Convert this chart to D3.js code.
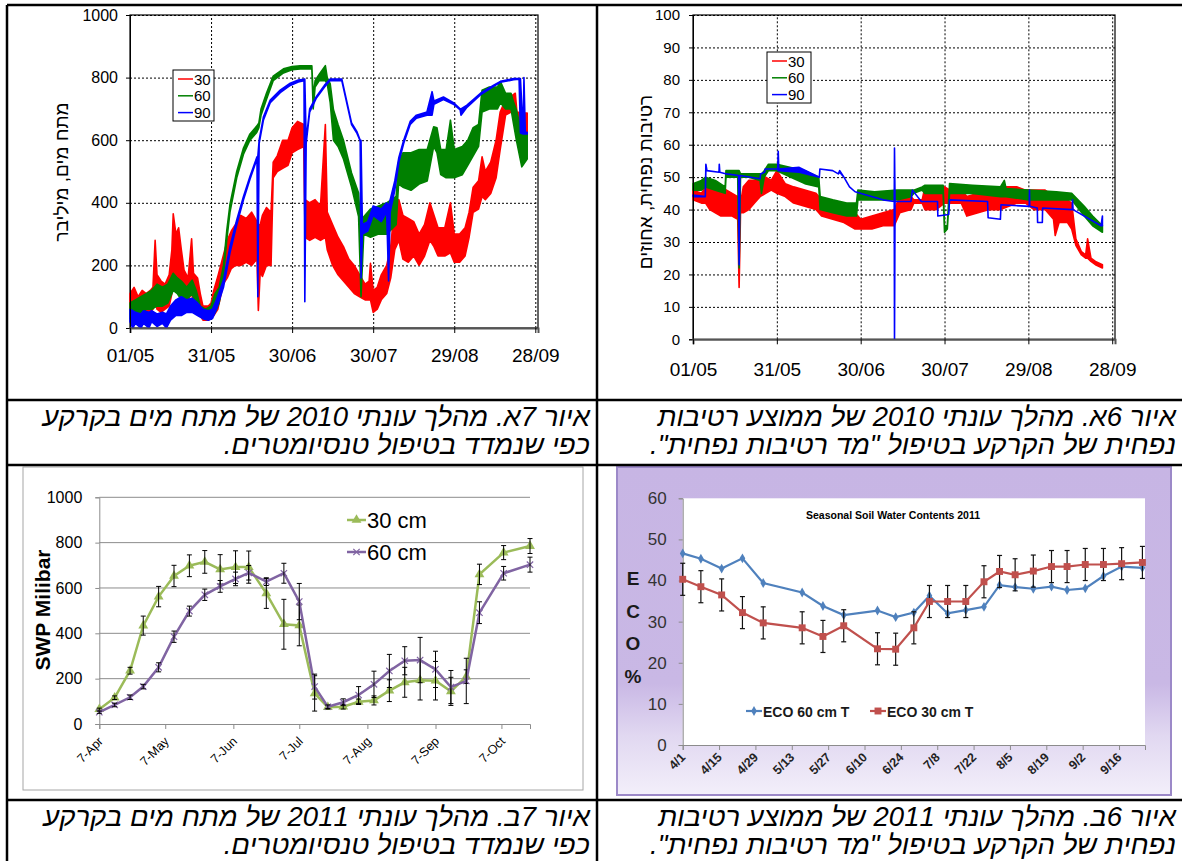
<!DOCTYPE html>
<html>
<head>
<meta charset="utf-8">
<script src="https://cdn.jsdelivr.net/npm/d3@7"></script>
<style>
  body { margin: 0; background: #fff; }
  svg { display: block; }
  .dotgrid line { stroke: #000; stroke-width: 1px; stroke-dasharray: 2 2; }
</style>
</head>
<body>
<svg id="fig" width="1182" height="861"></svg>
<script>
// ---------- data ----------
// 2010 sensor logs, days counted from 01/05/2010. each row: [day, low, high] of the daily swing
const start2010 = new Date(2010, 4, 1);
const tickDays2010 = [0, 30, 60, 90, 120, 150];
const depthNames = ["30", "60", "90"];
const depthColors = ["#ff0000", "#008000", "#0000ff"];

// water tension (millibar), tensiometer plot
const tension30 = [[0,40,110],[1.5,60,130],[3,50,100],[4.5,30,120],[6,40,110],[7.5,50,120],[8.5,60,130],[9.3,90,280],[10,60,170],[11.5,50,150],[13,60,140],[14.5,70,170],[15.5,110,250],[16,150,365],[17,150,300],[18,170,320],[19,100,250],[20,90,185],[21.5,90,160],[22.8,110,285],[23.5,80,175],[25,70,160],[26,40,110],[27,25,70],[29,25,70],[30,30,80],[31,40,120],[32.5,60,165],[34.5,140,230],[36,160,280],[37.5,190,310],[39,200,330],[41,200,360],[43,210,350],[45,200,370],[47,220,340],[47.5,56,330],[48.2,180,330],[49,165,360],[50.5,200,385],[52.2,200,370],[53,480,530],[54.5,500,550],[56.5,510,600],[58.5,520,600],[60,560,640],[62,570,660],[64.3,580,650],[64.8,290,410],[66.5,280,400],[68.5,290,410],[70.5,280,390],[72.3,290,650],[73,250,370],[75,200,330],[77,170,290],[79,150,260],[81,130,220],[83,110,200],[85,100,170],[87,90,140],[88.5,90,150],[89,90,207],[90,50,120],[91.5,60,130],[93,90,170],[95,110,200],[96.5,160,260],[98,250,400],[99.5,280,410],[101,220,360],[103,210,350],[105,230,340],[107,200,300],[109,230,330],[111,280,400],[112.5,260,360],[114,230,320],[116.5,230,320],[118.6,240,400],[120,210,300],[122,210,300],[124,230,320],[125.5,290,370],[127,370,450],[129,380,470],[130.3,420,547],[131.5,410,500],[133.5,430,530],[135.5,480,600],[137,570,690],[139,680,730],[141,690,740],[142.6,700,750],[143.2,610,690],[145,610,687],[147,610,687]];
const tension60 = [[0,30,80],[2,40,90],[4,40,100],[6,60,110],[8,60,120],[10,70,140],[12,70,130],[14,80,140],[16,120,175],[17.5,110,160],[19,90,150],[21,90,130],[23,110,153],[24.5,70,120],[26,40,70],[28,30,60],[30,30,70],[31.5,50,110],[33,80,130],[34.6,170,200],[35.8,280,310],[37,370,395],[39.5,480,500],[42,555,575],[44.4,600,620],[46.9,625,645],[47.7,640,655],[48.5,680,700],[50.5,730,750],[53,790,805],[56.8,815,828],[60,825,835],[63,828,838],[67.3,828,838],[67.8,700,740],[68.5,770,790],[70,790,810],[72.3,790,838],[73,780,800],[74.1,720,780],[75.3,600,697],[77,580,650],[79,540,600],[82,450,495],[84.6,356,431],[85.5,100,300],[86.5,300,355],[89,290,380],[92,300,390],[95,300,400],[98.5,330,420],[99.4,460,530],[101,450,560],[104,440,560],[107,460,570],[110,470,570],[112.4,580,643],[113.6,560,640],[115,490,570],[117,480,570],[118.6,480,664],[120,480,570],[123,490,580],[125,520,600],[127,550,640],[129,580,650],[130.3,690,760],[133,700,770],[136,700,770],[137.1,720,787],[139,700,750],[141,700,750],[142,650,720],[143,600,697],[145,515,623],[147,540,620]];
const tension90 = [[0,20,60],[1,0,55],[2,15,50],[4,0,45],[5,15,55],[7,0,50],[8,20,55],[10,5,45],[12,15,50],[13.5,0,45],[15,25,70],[17,40,90],[19,40,100],[21,50,90],[23,50,95],[25,40,80],[27,30,60],[29,25,55],[30.5,30,60],[32,60,90],[34.6,130,153],[37,240,260],[39.5,330,345],[42,410,420],[44.4,475,484],[47,540,547],[47.3,100,547],[47.8,590,600],[49.4,665,675],[51.9,720,728],[55.6,752,760],[59.3,775,782],[62.3,786,792],[64.4,790,795],[64.7,84,795],[65.2,590,600],[66.5,690,700],[69,735,740],[72,770,776],[74,790,795],[78.4,790,795],[82,650,655],[84,622,627],[85.2,598,600],[85.5,160,600],[86,300,330],[88,310,340],[90,360,390],[93,340,380],[95,370,400],[95.7,150,390],[96.3,370,410],[98,440,470],[99.5,530,545],[101.3,590,600],[103.7,650,660],[106,670,680],[109.9,680,690],[111.8,680,755],[112.5,715,725],[116,730,738],[119.7,715,720],[122.2,697,700],[122.5,680,700],[124.7,705,712],[129.7,745,750],[134.6,772,776],[137.1,785,788],[142,793,797],[144,795,797],[144.5,623,797],[145.5,620,625],[145.8,620,800],[146.3,620,625],[147,620,625]];

// volumetric moisture (%), moisture-meter plot
const moist30 = [[0,43,46],[3,42,45],[4.5,42,47],[6,40,47],[8,39,46],[10,38,47],[12,38,46],[14,38,45],[16,37,44],[16.5,16,44],[17,39,42],[18,39,47],[20,40,49],[22,42,49],[24,44,50],[26,45,50],[28,46,49],[30,45,52],[33,44,48],[36,42,47],[40,41,46],[44,40,45],[46,38,43],[50,37,42],[54,36,41],[58,34,39],[60,34,37],[64,34,38],[68,35,39],[72,35,40],[74,39,44],[78,40,44],[79,42,43],[82,42,43],[83,40,47],[87,40,47],[90,42,47],[92,42,46],[96,42,46],[98,38,44],[102,39,45],[106,40,47],[110,40,47],[113,41,47],[116,42,47],[119,42,46],[122,40,46],[126,40,46],[129,37,44],[129.6,32,44],[131,36,43],[134,36,43],[135.5,34,42],[137,29,31],[139,26,27],[140.5,25,26],[141.2,25,31],[142.4,24,25],[144,23,24],[146.5,22,23]];
const moist60 = [[0,46,48],[3,46,49],[4.5,47,50],[8,46,49],[11.5,45,47],[11.8,50,52],[16,50,52],[16.5,22,52],[17,50,51],[20,50,51],[24,49,51],[24.5,45,51],[25.5,50,52],[27,52,54],[30,52,54],[35,50,53],[40,48,52],[45,47,50],[45.5,40,44],[50,39,43],[55,38,42],[58.5,38,42],[59,43,46],[65,43,45.5],[73,43,46],[78,44,46],[79,45,46],[82,46,47],[83,45,47.5],[89.5,45,47.5],[90,33,35],[91,34,35],[91.8,45,48],[100,45,47.5],[110,44,47],[111.4,44,49],[112,44,46.5],[120,43,46],[130,43,45.5],[135.5,43,45],[140,38,41],[143,35,38],[146.5,33,35]];
const moist90 = [[0,44,44.5],[4.4,44,44],[4.6,52,54],[5,52,52],[9.3,51.5,51.5],[9.4,51.5,54],[9.6,51.5,51.5],[12,51,51],[16.3,50.5,50.5],[16.5,23,50.5],[16.8,50.5,50.5],[24,49.5,49.5],[24.2,51,51],[25.6,51.5,51.5],[25.8,52.5,52.5],[30.3,52.5,52.5],[30.5,52,58],[30.7,52,52.5],[38,51.5,53],[45.2,50,50],[45.4,52.5,52.5],[50,52,52],[52,51,51],[52.5,51.5,52],[54,50,50],[56,47,47],[58,45.5,45.5],[62,44.5,44.5],[68,43,43],[72,42.5,42.5],[72.1,0,59],[72.3,42.5,42.5],[78,42.5,42.5],[78.5,46,46],[81.7,42.5,42.5],[87.5,42.5,42.5],[87.6,38,38],[91.5,38.5,38.5],[91.8,43,43],[105.4,42.5,42.5],[105.6,37.5,37.5],[110,37,37],[110.2,41.5,41.5],[120.3,41,41],[120.4,41,46],[120.5,41,41],[123.2,40.5,40.5],[123.3,36,36],[125,36,36],[125.1,40.5,40.5],[135.7,40,40],[135.8,40,43],[136,40,40],[146,35,35],[146.5,35,38]];

// 2011 soil water potential (SWP, millibar), mean +- error
const swpDates = ["2011-04-07","2011-04-14","2011-04-21","2011-04-27","2011-05-04","2011-05-11","2011-05-18","2011-05-25","2011-06-01","2011-06-08","2011-06-14","2011-06-22","2011-06-30","2011-07-07","2011-07-14","2011-07-20","2011-07-27","2011-08-03","2011-08-10","2011-08-17","2011-08-24","2011-08-31","2011-09-07","2011-09-14","2011-09-21","2011-09-27","2011-10-08","2011-10-20"];
const swp30 = [65,116,235,434,562,653,698,715,682,692,692,576,440,435,135,74,76,98,104,147,184,193,191,144,209,660,756,785];
const swp30Err = [5,8,15,42,45,47,48,50,65,72,71,66,110,90,78,8,10,12,20,48,66,87,85,62,30,45,31,33];
const swp60 = [52,84,118,165,250,385,498,570,607,640,667,628,665,540,165,76,96,128,175,234,279,282,241,163,190,491,665,703];
const swp60Err = [5,8,10,10,20,25,22,25,26,30,32,17,44,80,55,8,15,37,58,73,62,100,80,73,100,48,30,33];
const swpMonthTicks = ["2011-04-07","2011-05-07","2011-06-07","2011-07-07","2011-08-07","2011-09-07","2011-10-07"];

// 2011 ECO volumetric water content (%)
const ecoDates = ["2011-04-01","2011-04-08","2011-04-16","2011-04-24","2011-05-02","2011-05-17","2011-05-25","2011-06-02","2011-06-15","2011-06-22","2011-06-29","2011-07-05","2011-07-12","2011-07-19","2011-07-26","2011-08-01","2011-08-07","2011-08-14","2011-08-21","2011-08-27","2011-09-03","2011-09-10","2011-09-17","2011-09-25"];
const eco60 = [46.6,45.3,42.9,45.4,39.4,37.1,33.8,31.6,32.7,31.1,32.2,36.3,32.0,32.8,33.6,38.9,38.4,38.0,38.5,37.7,38.1,41.1,43.4,43.1];
const eco30 = [40.3,38.5,36.5,32.2,29.7,28.5,26.4,29.0,23.4,23.3,28.5,34.9,34.9,34.9,39.7,42.2,41.4,42.3,43.4,43.4,43.9,43.9,44.1,44.4];
const eco30Err = 3.9;
const ecoTickLabels = ["4/1","4/15","4/29","5/13","5/27","6/10","6/24","7/8","7/22","8/5","8/19","9/2","9/16"];

const captions = {
  tl: ["איור 7א. מהלך עונתי 2010 של מתח מים בקרקע", "כפי שנמדד בטיפול טנסיומטרים."],
  tr: ["איור 6א. מהלך עונתי 2010 של ממוצע רטיבות", "נפחית של הקרקע בטיפול \"מד רטיבות נפחית\"."],
  bl: ["איור 7ב. מהלך עונתי 2011 של מתח מים בקרקע", "כפי שנמדד בטיפול טנסיומטרים."],
  br: ["איור 6ב. מהלך עונתי 2011  של ממוצע רטיבות", "נפחית של הקרקע בטיפול \"מד רטיבות נפחית\"."]
};

// ---------- drawing ----------
const svg = d3.select("#fig");
const FONT = "'Liberation Sans', Arial, sans-serif";
const HEB = "'Liberation Sans', 'DejaVu Sans', sans-serif";
const parse = d3.timeParse("%Y-%m-%d");
const atDay = (d) => new Date(start2010.getTime() + d * 864e5);

function drawSensorPanel(cfg) {
  const g = svg.append("g");
  const x = d3.scaleTime().domain([start2010, atDay(151)]).range([cfg.left, cfg.right]);
  const y = d3.scaleLinear().domain([0, cfg.yMax]).range([cfg.bottom, cfg.top]);
  const yTicks = d3.range(0, cfg.yMax + 1, cfg.yStep);
  const xTicks = tickDays2010.map(atDay);

  // dotted grid, drawn as full-length axis ticks
  const gy = g.append("g").attr("class", "dotgrid").attr("transform", `translate(${cfg.left},0)`)
    .call(d3.axisLeft(y).tickValues(yTicks.slice(1)).tickSize(-(cfg.right - cfg.left)).tickFormat(""));
  gy.select(".domain").remove();
  const gx = g.append("g").attr("class", "dotgrid").attr("transform", `translate(0,${cfg.bottom})`)
    .call(d3.axisBottom(x).tickValues(xTicks.slice(1)).tickSize(-(cfg.bottom - cfg.top)).tickFormat(""));
  gx.select(".domain").remove();

  g.append("rect")
    .attr("x", cfg.left).attr("y", cfg.top)
    .attr("width", cfg.right - cfg.left).attr("height", cfg.bottom - cfg.top)
    .attr("fill", "none").attr("stroke", "#000").attr("stroke-width", 1.2);

  // series as low/high bands
  cfg.series.forEach((s, i) => {
    const band = d3.area()
      .x(d => x(atDay(d[0])))
      .y0(d => y(d[1]))
      .y1(d => y(d[2]));
    g.append("path")
      .attr("d", band(s))
      .attr("fill", depthColors[i])
      .attr("stroke", depthColors[i])
      .attr("stroke-width", 1.6)
      .attr("stroke-linejoin", "round");
  });

  const ya = g.append("g").attr("transform", `translate(${cfg.left},0)`)
    .call(d3.axisLeft(y).tickValues(yTicks).tickFormat(d3.format("d")).tickSize(4).tickPadding(cfg.yPad));
  ya.select(".domain").attr("stroke", "#000");
  ya.selectAll("text").style("font-family", FONT).style("font-size", cfg.yFont + "px").attr("fill", "#000");

  const xa = g.append("g").attr("transform", `translate(0,${cfg.bottom})`)
    .call(d3.axisBottom(x).tickValues(xTicks).tickFormat(d3.timeFormat("%d/%m")).tickSize(5).tickPadding(cfg.xPad));
  xa.select(".domain").attr("stroke", "#555").attr("stroke-width", 2);
  xa.selectAll("text").style("font-family", FONT).style("font-size", "19px").attr("fill", "#000");

  // y title
  g.append("text")
    .attr("transform", `translate(${cfg.titleX},${cfg.titleY}) rotate(-90)`)
    .attr("text-anchor", "middle")
    .attr("direction", "rtl")
    .style("font-family", HEB).style("font-size", "19px")
    .text(cfg.yLabel);

  // legend
  const lg = g.append("g").attr("transform", `translate(${cfg.legX},${cfg.legY})`);
  lg.append("rect").attr("width", cfg.legW).attr("height", 51)
    .attr("fill", "#fff").attr("stroke", "#000");
  depthNames.forEach((n, i) => {
    const yy = 9 + i * 16.8;
    lg.append("line").attr("x1", 5).attr("x2", 20).attr("y1", yy).attr("y2", yy)
      .attr("stroke", depthColors[i]).attr("stroke-width", 1.5);
    lg.append("text").attr("x", 21).attr("y", yy + 5.5)
      .style("font-family", FONT).style("font-size", "15px").text(n);
  });
}

drawSensorPanel({
  left: 130, right: 538, top: 15, bottom: 328, yMax: 1000, yStep: 200,
  yFont: 16, yPad: 8, xPad: 16,
  series: [tension30, tension60, tension90],
  yLabel: "מתח מים, מיליבר", titleX: 68, titleY: 172,
  legX: 173, legY: 70, legW: 41
});

drawSensorPanel({
  left: 693, right: 1115, top: 15, bottom: 339.3, yMax: 100, yStep: 10,
  yFont: 15, yPad: 9, xPad: 18,
  series: [moist30, moist60, moist90],
  yLabel: "רטיבות נפחית, אחוזים", titleX: 652, titleY: 182,
  legX: 767, legY: 52, legW: 44
});

// ---------- 2011 SWP (Excel style) ----------
(function () {
  const g = svg.append("g");
  g.append("rect").attr("x", 23).attr("y", 467).attr("width", 560).attr("height", 323)
    .attr("fill", "#fff").attr("stroke", "#a6a6a6");
  const x = d3.scaleTime().domain([parse("2011-04-07"), parse("2011-10-20")]).range([99.3, 530]);
  const y = d3.scaleLinear().domain([0, 1000]).range([724, 497.3]);
  const yTicks = d3.range(0, 1001, 200);

  g.append("g").selectAll("line").data(yTicks.slice(1)).join("line")
    .attr("x1", 99.3).attr("x2", 530).attr("y1", d => y(d)).attr("y2", d => y(d))
    .attr("stroke", "#8c8c8c").attr("stroke-width", 1);

  const ya = g.append("g").attr("transform", "translate(99.3,0)")
    .call(d3.axisLeft(y).tickValues(yTicks).tickFormat(d3.format("d")).tickSize(4).tickPadding(13));
  ya.selectAll("line, path").attr("stroke", "#8c8c8c");
  ya.selectAll("text").style("font-family", FONT).style("font-size", "16px").attr("fill", "#000");

  const xa = g.append("g").attr("transform", "translate(0,724)")
    .call(d3.axisBottom(x).tickValues(swpMonthTicks.map(parse)).tickFormat(d3.timeFormat("%-d-%b")).tickSize(5));
  xa.selectAll("line, path").attr("stroke", "#8c8c8c");
  xa.selectAll("text")
    .attr("y", 0).attr("dy", 0)
    .attr("transform", "translate(4,18) rotate(-45)")
    .style("text-anchor", "end")
    .style("font-family", FONT).style("font-size", "12.5px").attr("fill", "#000");

  g.append("text").attr("transform", "translate(50,610) rotate(-90)")
    .attr("text-anchor", "middle")
    .style("font-family", FONT).style("font-size", "21px").style("font-weight", "bold")
    .text("SWP Milibar");

  const series = [
    { vals: swp30, errs: swp30Err, color: "#9bbb59", sym: d3.symbolTriangle, name: "30 cm" },
    { vals: swp60, errs: swp60Err, color: "#8064a2", sym: d3.symbolX, name: "60 cm" }
  ];
  const dates = swpDates.map(parse);
  series.forEach(s => {
    const pts = dates.map((d, i) => ({ d, v: s.vals[i], e: s.errs[i] }));
    g.append("path").datum(pts)
      .attr("d", d3.line().x(p => x(p.d)).y(p => y(p.v)))
      .attr("fill", "none").attr("stroke", s.color).attr("stroke-width", 2.5);
    const sym = d3.symbol(s.sym, s.sym === d3.symbolX ? 28 : 42);
    g.append("g").selectAll("path").data(pts).join("path")
      .attr("transform", p => `translate(${x(p.d)},${y(p.v)})`)
      .attr("d", sym)
      .attr("fill", s.color).attr("stroke", s.color).attr("stroke-width", s.sym === d3.symbolX ? 1.2 : 0);
    const eb = g.append("g").attr("stroke", "#000").attr("stroke-width", 1);
    eb.selectAll("line.v").data(pts).join("line").attr("class", "v")
      .attr("x1", p => x(p.d)).attr("x2", p => x(p.d))
      .attr("y1", p => y(p.v - p.e)).attr("y2", p => y(p.v + p.e));
    eb.selectAll("line.t").data(pts).join("line").attr("class", "t")
      .attr("x1", p => x(p.d) - 2.5).attr("x2", p => x(p.d) + 2.5)
      .attr("y1", p => y(p.v + p.e)).attr("y2", p => y(p.v + p.e));
    eb.selectAll("line.b").data(pts).join("line").attr("class", "b")
      .attr("x1", p => x(p.d) - 2.5).attr("x2", p => x(p.d) + 2.5)
      .attr("y1", p => y(p.v - p.e)).attr("y2", p => y(p.v - p.e));
  });

  // legend
  series.forEach((s, i) => {
    const yy = 520 + i * 32;
    g.append("line").attr("x1", 347).attr("x2", 366).attr("y1", yy).attr("y2", yy)
      .attr("stroke", s.color).attr("stroke-width", 2.5);
    g.append("path").attr("transform", `translate(356.5,${yy})`)
      .attr("d", d3.symbol(s.sym, s.sym === d3.symbolX ? 28 : 42))
      .attr("fill", s.color).attr("stroke", s.color).attr("stroke-width", s.sym === d3.symbolX ? 1.2 : 0);
    g.append("text").attr("x", 367).attr("y", yy + 8)
      .style("font-family", FONT).style("font-size", "22px").text(s.name);
  });
})();

// ---------- 2011 ECO water content ----------
(function () {
  const g = svg.append("g");
  const grad = svg.append("defs").append("linearGradient").attr("id", "lav")
    .attr("x1", 0).attr("y1", 0).attr("x2", 0).attr("y2", 1);
  grad.append("stop").attr("offset", "0").attr("stop-color", "#c7b5e4");
  grad.append("stop").attr("offset", "0.66").attr("stop-color", "#c9b8e5");
  grad.append("stop").attr("offset", "0.82").attr("stop-color", "#e1d8f1");
  grad.append("stop").attr("offset", "1").attr("stop-color", "#f3effa");
  g.append("rect").attr("x", 617).attr("y", 467).attr("width", 554).attr("height", 328)
    .attr("fill", "url(#lav)").attr("stroke", "#9c89c8").attr("stroke-width", 2);

  const x = d3.scaleTime().domain([parse("2011-04-01"), parse("2011-09-26")]).range([682.7, 1145]);
  const y = d3.scaleLinear().domain([0, 60]).range([745, 498.3]);
  g.append("rect").attr("x", 682.7).attr("y", 498.3).attr("width", 1145 - 682.7).attr("height", 745 - 498.3)
    .attr("fill", "#fff");

  const ya = g.append("g").attr("transform", "translate(682.7,0)")
    .call(d3.axisLeft(y).tickValues(d3.range(0, 61, 10)).tickSize(4).tickPadding(12));
  ya.selectAll("line, path").attr("stroke", "#8c8c8c");
  ya.selectAll("text").style("font-family", FONT).style("font-size", "17px").attr("fill", "#333");

  const tickDates = ecoTickLabels.map(l => { const [m, d] = l.split("/"); return new Date(2011, +m - 1, +d); });
  const xa = g.append("g").attr("transform", "translate(0,745)")
    .call(d3.axisBottom(x).tickValues(tickDates).tickFormat((d, i) => ecoTickLabels[i]).tickSize(5));
  xa.selectAll("line, path").attr("stroke", "#8c8c8c");
  xa.selectAll("text")
    .attr("y", 0).attr("dy", 0)
    .attr("transform", "translate(3,13) rotate(-45)")
    .style("text-anchor", "end")
    .style("font-family", FONT).style("font-size", "12.5px").style("font-weight", "bold").attr("fill", "#222");

  g.append("text").attr("x", 893).attr("y", 519).attr("text-anchor", "middle")
    .style("font-family", FONT).style("font-size", "10.5px").style("font-weight", "bold")
    .text("Seasonal Soil Water Contents 2011");

  ["E", "C", "O", "%"].forEach((c, i) => {
    g.append("text").attr("x", 633).attr("y", 585 + i * 32.5).attr("text-anchor", "middle")
      .style("font-family", FONT).style("font-size", "19px").style("font-weight", "bold").attr("fill", "#1a1a1a")
      .text(c);
  });

  const dates = ecoDates.map(parse);
  const series = [
    { vals: eco60, color: "#4f81bd", sym: d3.symbolDiamond, size: 28, err: 0, name: "ECO 60 cm T" },
    { vals: eco30, color: "#c0504d", sym: d3.symbolSquare, size: 48, err: eco30Err, name: "ECO 30 cm T" }
  ];
  series.forEach(s => {
    const pts = dates.map((d, i) => ({ d, v: s.vals[i] }));
    g.append("path").datum(pts)
      .attr("d", d3.line().x(p => x(p.d)).y(p => y(p.v)))
      .attr("fill", "none").attr("stroke", s.color).attr("stroke-width", 2.2);
    if (s.err) {
      const eb = g.append("g").attr("stroke", "#111").attr("stroke-width", 1.2);
      eb.selectAll("line.v").data(pts).join("line").attr("class", "v")
        .attr("x1", p => x(p.d)).attr("x2", p => x(p.d))
        .attr("y1", p => y(p.v - s.err)).attr("y2", p => y(p.v + s.err));
      [1, -1].forEach(sg => {
        eb.append("g").selectAll("line").data(pts).join("line")
          .attr("x1", p => x(p.d) - 2.5).attr("x2", p => x(p.d) + 2.5)
          .attr("y1", p => y(p.v + sg * s.err)).attr("y2", p => y(p.v + sg * s.err));
      });
    }
    g.append("g").selectAll("path").data(pts).join("path")
      .attr("transform", p => `translate(${x(p.d)},${y(p.v)})`)
      .attr("d", d3.symbol(s.sym, s.size)).attr("fill", s.color);
  });

  // legend
  series.forEach((s, i) => {
    const lx = 746 + i * 124, yy = 711;
    g.append("line").attr("x1", lx).attr("x2", lx + 16).attr("y1", yy).attr("y2", yy)
      .attr("stroke", s.color).attr("stroke-width", 2.2);
    g.append("path").attr("transform", `translate(${lx + 8},${yy})`)
      .attr("d", d3.symbol(s.sym, s.size)).attr("fill", s.color);
    g.append("text").attr("x", lx + 17).attr("y", yy + 5.5)
      .style("font-family", FONT).style("font-size", "14px").style("font-weight", "bold").attr("fill", "#1a1a1a")
      .text(s.name);
  });
})();

// ---------- table frame and captions ----------
const frame = svg.append("g").attr("stroke", "#000").attr("stroke-width", 2.5);
[[7, 5, 1182, 5], [7, 5, 7, 861], [597, 5, 597, 861], [7, 400, 1182, 400], [7, 465, 1182, 465], [7, 800, 1182, 800]]
  .forEach(([x1, y1, x2, y2]) => frame.append("line").attr("x1", x1).attr("y1", y1).attr("x2", x2).attr("y2", y2));

function caption(lines, right, base) {
  lines.forEach((t, i) => {
    svg.append("text")
      .attr("x", right).attr("y", base + i * 28)
      .attr("direction", "rtl").attr("text-anchor", "start")
      .style("font-family", HEB).style("font-size", "27.5px").style("font-style", "italic")
      .text(t);
  });
}
caption(captions.tl, 590, 426);
caption(captions.tr, 1176, 426);
caption(captions.bl, 590, 826);
caption(captions.br, 1176, 826);
</script>
</body>
</html>
